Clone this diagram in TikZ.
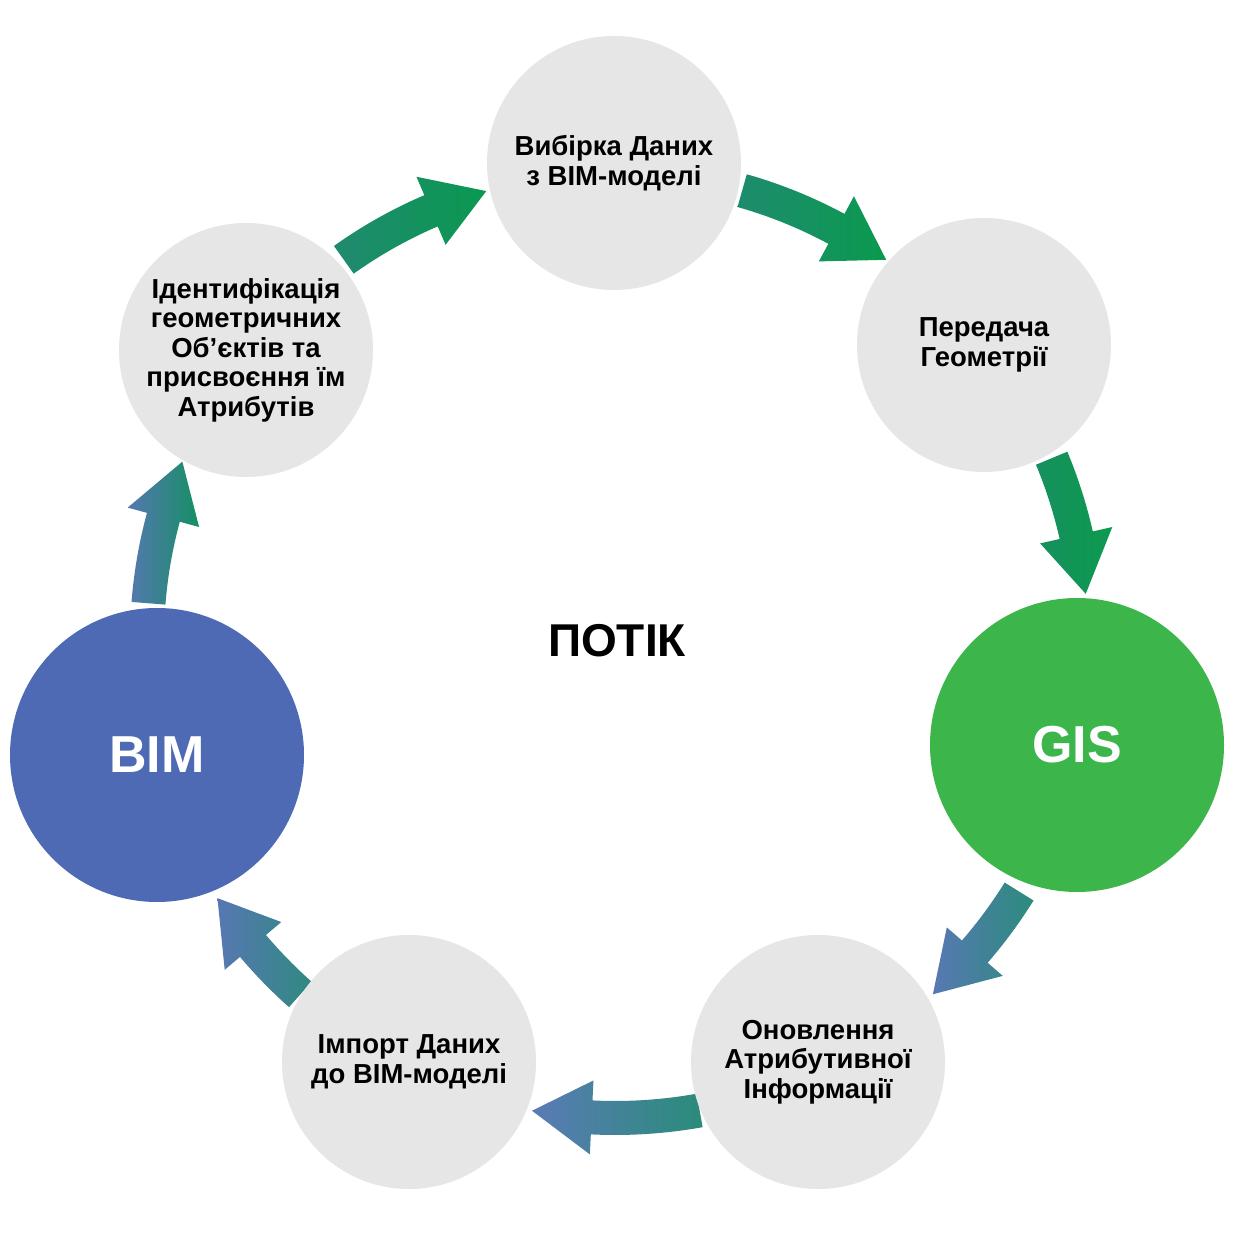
\documentclass[tikz,border=0pt]{standalone}
\usepackage{fontspec}
\setmainfont{Liberation Sans}
\definecolor{nodegray}{HTML}{E6E6E6}
\definecolor{bimblue}{HTML}{4E6AB4}
\definecolor{gisgreen}{HTML}{3CB54A}
\definecolor{aAl}{HTML}{208A70}\definecolor{aAr}{HTML}{0A9850}
\definecolor{aBl}{HTML}{1E8B6E}\definecolor{aBr}{HTML}{0A9A4E}
\definecolor{aCl}{HTML}{16905E}\definecolor{aCr}{HTML}{0C9A4E}
\definecolor{aDl}{HTML}{5878B3}\definecolor{aDr}{HTML}{2B8C7C}
\definecolor{aEl}{HTML}{5A7BB5}\definecolor{aEr}{HTML}{2A8C7A}
\definecolor{aFl}{HTML}{5777B3}\definecolor{aFr}{HTML}{2F8A80}
\definecolor{aGl}{HTML}{5578B1}\definecolor{aGr}{HTML}{158F64}
\newcommand\flowarrow[6]{%
  \pgfmathsetmacro\Ri{#4-17}\pgfmathsetmacro\Ro{#4+17}%
  \pgfmathsetmacro\Hi{#4-37}\pgfmathsetmacro\Ho{#4+37}%
  \shade[left color=#5,right color=#6]
    (#1:\Ri pt) arc[start angle=#1,end angle=#2,radius=\Ri pt]
    -- (#2:\Hi pt) -- (#3:#4pt) -- (#2:\Ho pt) -- (#2:\Ro pt)
    arc[start angle=#2,end angle=#1,radius=\Ro pt] -- cycle;}
\begin{document}
\begin{tikzpicture}[x=1pt,y=1pt,
  step node/.style={circle,fill=nodegray,minimum size=254pt,inner sep=0pt,align=center,
    font=\fontsize{27.5}{29.5}\selectfont\bfseries},
  main node/.style={circle,minimum size=294pt,inner sep=0pt,text=white,
    font=\fontsize{52}{60}\selectfont\bfseries}]
\fill[white] (0,0) rectangle (1239,1237);
\useasboundingbox (0,0) rectangle (1239,1237);
% arrows
\begin{scope}[shift={(615,597)}]
\flowarrow{125.5}{113.2}{106}{467}{aAl}{aAr}
\flowarrow{74.2}{61.7}{54.5}{467}{aBl}{aBr}
\flowarrow{22.6}{12.8}{5.6}{473}{aCl}{aCr}
\flowarrow{-31.9}{-40.9}{-48.1}{476}{aDl}{aDr}
\flowarrow{-79.8}{-92.8}{-100}{478}{aEl}{aEr}
\flowarrow{-131.6}{-139.8}{-147}{474}{aFl}{aFr}
\flowarrow{175.5}{164.8}{157.6}{468}{aGl}{aGr}
\end{scope}
% nodes
\node[step node] (s1) at (614,1074) {Вибірка Даних\\з BIM-моделі};
\node[step node] (s2) at (984,892) {Передача\\Геометрії};
\node[main node,fill=gisgreen] (gis) at (1077,492) {GIS};
\node[step node] (s3) at (818,175) {Оновлення\\Атрибутивної\\Інформації};
\node[step node] (s4) at (409,175) {Імпорт Даних\\до BIM-моделі};
\node[main node,fill=bimblue] (bim) at (157,482) {BIM};
\node[step node] (s5) at (246,887) {Ідентифікація\\геометричних\\Об’єктів та\\присвоєння їм\\Атрибутів};
\node[font=\fontsize{46}{56}\selectfont\bfseries] (flow) at (617,596) {ПОТІК};
\end{tikzpicture}
\end{document}
